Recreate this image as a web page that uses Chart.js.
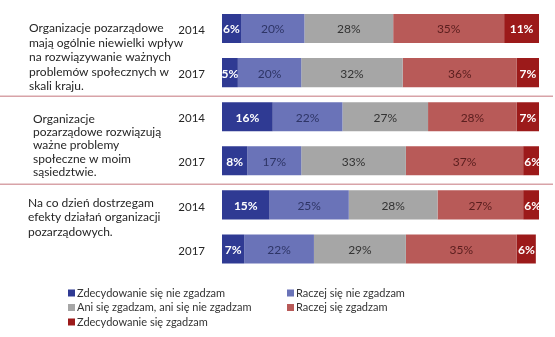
<!DOCTYPE html>
<html>
<head>
<meta charset="utf-8">
<script src="https://cdn.jsdelivr.net/npm/chart.js@4"></script>
<style>
html,body{margin:0;padding:0;background:#fff;}
#wrap{position:relative;width:555px;height:337px;}
</style>
</head>
<body>
<div id="wrap"><canvas id="c" width="555" height="337"></canvas></div>
<script>
// ---- data ----
const categories = ['2014', '2017', '2014', '2017', '2014', '2017'];
const statements = [
  ['Organizacje pozarządowe', 'mają ogólnie niewielki wpływ', 'na rozwiązywanie ważnych', 'problemów społecznych w', 'skali kraju.'],
  ['Organizacje', 'pozarządowe rozwiązują', 'ważne problemy', 'społeczne w moim', 'sąsiedztwie.'],
  ['Na co dzień dostrzegam', 'efekty działań organizacji', 'pozarządowych.']
];
const seriesNames = [
  'Zdecydowanie się nie zgadzam',
  'Raczej się nie zgadzam',
  'Ani się zgadzam, ani się nie zgadzam',
  'Raczej się zgadzam',
  'Zdecydowanie się zgadzam'
];
const stronglyDisagree = [6, 5, 16, 8, 15, 7];
const ratherDisagree   = [20, 20, 22, 17, 25, 22];
const neutral          = [28, 32, 27, 33, 28, 29];
const ratherAgree      = [35, 36, 28, 37, 27, 35];
const stronglyAgree    = [11, 7, 7, 6, 6, 6];

// ---- styles ----
const FONT = 'Lato, "Open Sans", sans-serif';
const colors = ['#2f3a93', '#6a73b8', '#a6a6a6', '#b85a58', '#9c1a1a'];
const labelColors = ['#ffffff', '#2e3566', '#333333', '#5a1e1e', '#ffffff'];
const labelBold = [true, false, false, false, true];
const seriesValues = [stronglyDisagree, ratherDisagree, neutral, ratherAgree, stronglyAgree];

const datasets = seriesValues.map((vals, i) => ({
  label: seriesNames[i],
  data: vals,
  backgroundColor: colors[i],
  borderWidth: 0,
  barPercentage: 0.66,
  categoryPercentage: 1.0
}));

const decorPlugin = {
  id: 'decor',
  afterDatasetsDraw(chart) {
    const ctx = chart.ctx;
    const y = chart.scales.y;
    const area = chart.chartArea;
    // year (category) labels
    ctx.save();
    ctx.font = '11.5px ' + FONT;
    ctx.fillStyle = '#262626';
    ctx.textAlign = 'right';
    ctx.textBaseline = 'middle';
    chart.data.labels.forEach((lab, i) => {
      ctx.fillText(lab, area.left - 17, y.getPixelForValue(i) + 2);
    });
    ctx.restore();
    // value labels
    chart.data.datasets.forEach((ds, di) => {
      const meta = chart.getDatasetMeta(di);
      meta.data.forEach((bar, i) => {
        const v = ds.data[i];
        const cx = (bar.x + bar.base) / 2;
        ctx.save();
        ctx.font = (labelBold[di] ? 'bold ' : '') + '12px ' + FONT;
        ctx.fillStyle = labelColors[di];
        ctx.textAlign = 'center';
        ctx.textBaseline = 'middle';
        ctx.fillText(v + '%', cx, bar.y + 1);
        ctx.restore();
      });
    });
    // separators
    ctx.save();
    ctx.strokeStyle = '#d8a3a8';
    ctx.lineWidth = 1.5;
    [1, 3].forEach(k => {
      const yy = (y.getPixelForValue(k) + y.getPixelForValue(k + 1)) / 2 + 1.5;
      ctx.beginPath();
      ctx.moveTo(0, yy);
      ctx.lineTo(553, yy);
      ctx.stroke();
    });
    ctx.restore();
    // statement labels
    const xs = [29, 33, 28];
    const lh = [14.5, 13.4, 14.5];
    const dy = [0, 2, -2];
    ctx.save();
    ctx.font = '12px ' + FONT;
    ctx.fillStyle = '#262626';
    ctx.textAlign = 'left';
    ctx.textBaseline = 'middle';
    statements.forEach((lines, g) => {
      const y0 = y.getPixelForValue(g * 2) + dy[g];
      lines.forEach((t, li) => ctx.fillText(t, xs[g], y0 + li * lh[g]));
    });
    ctx.restore();
    // legend
    ctx.save();
    ctx.font = '11px ' + FONT;
    ctx.textBaseline = 'middle';
    chart.data.datasets.forEach((ds, i) => {
      const col = i % 2, row = Math.floor(i / 2);
      const lx = col === 0 ? 68 : 287;
      const ly = 293 + row * 14.5;
      ctx.fillStyle = ds.backgroundColor;
      ctx.fillRect(lx, ly - 3.5, 7, 7);
      ctx.fillStyle = '#333333';
      ctx.fillText(ds.label, lx + 9, ly);
    });
    ctx.restore();
  }
};

new Chart(document.getElementById('c'), {
  type: 'bar',
  data: { labels: categories, datasets },
  options: {
    indexAxis: 'y',
    responsive: false,
    animation: false,
    layout: { padding: { left: 222, right: 16, top: 6.5, bottom: 66 } },
    plugins: { legend: { display: false }, tooltip: { enabled: false } },
    scales: {
      x: { stacked: true, display: false, min: 0, max: 100 },
      y: { stacked: true, display: false }
    }
  },
  plugins: [decorPlugin]
});
</script>
</body>
</html>
